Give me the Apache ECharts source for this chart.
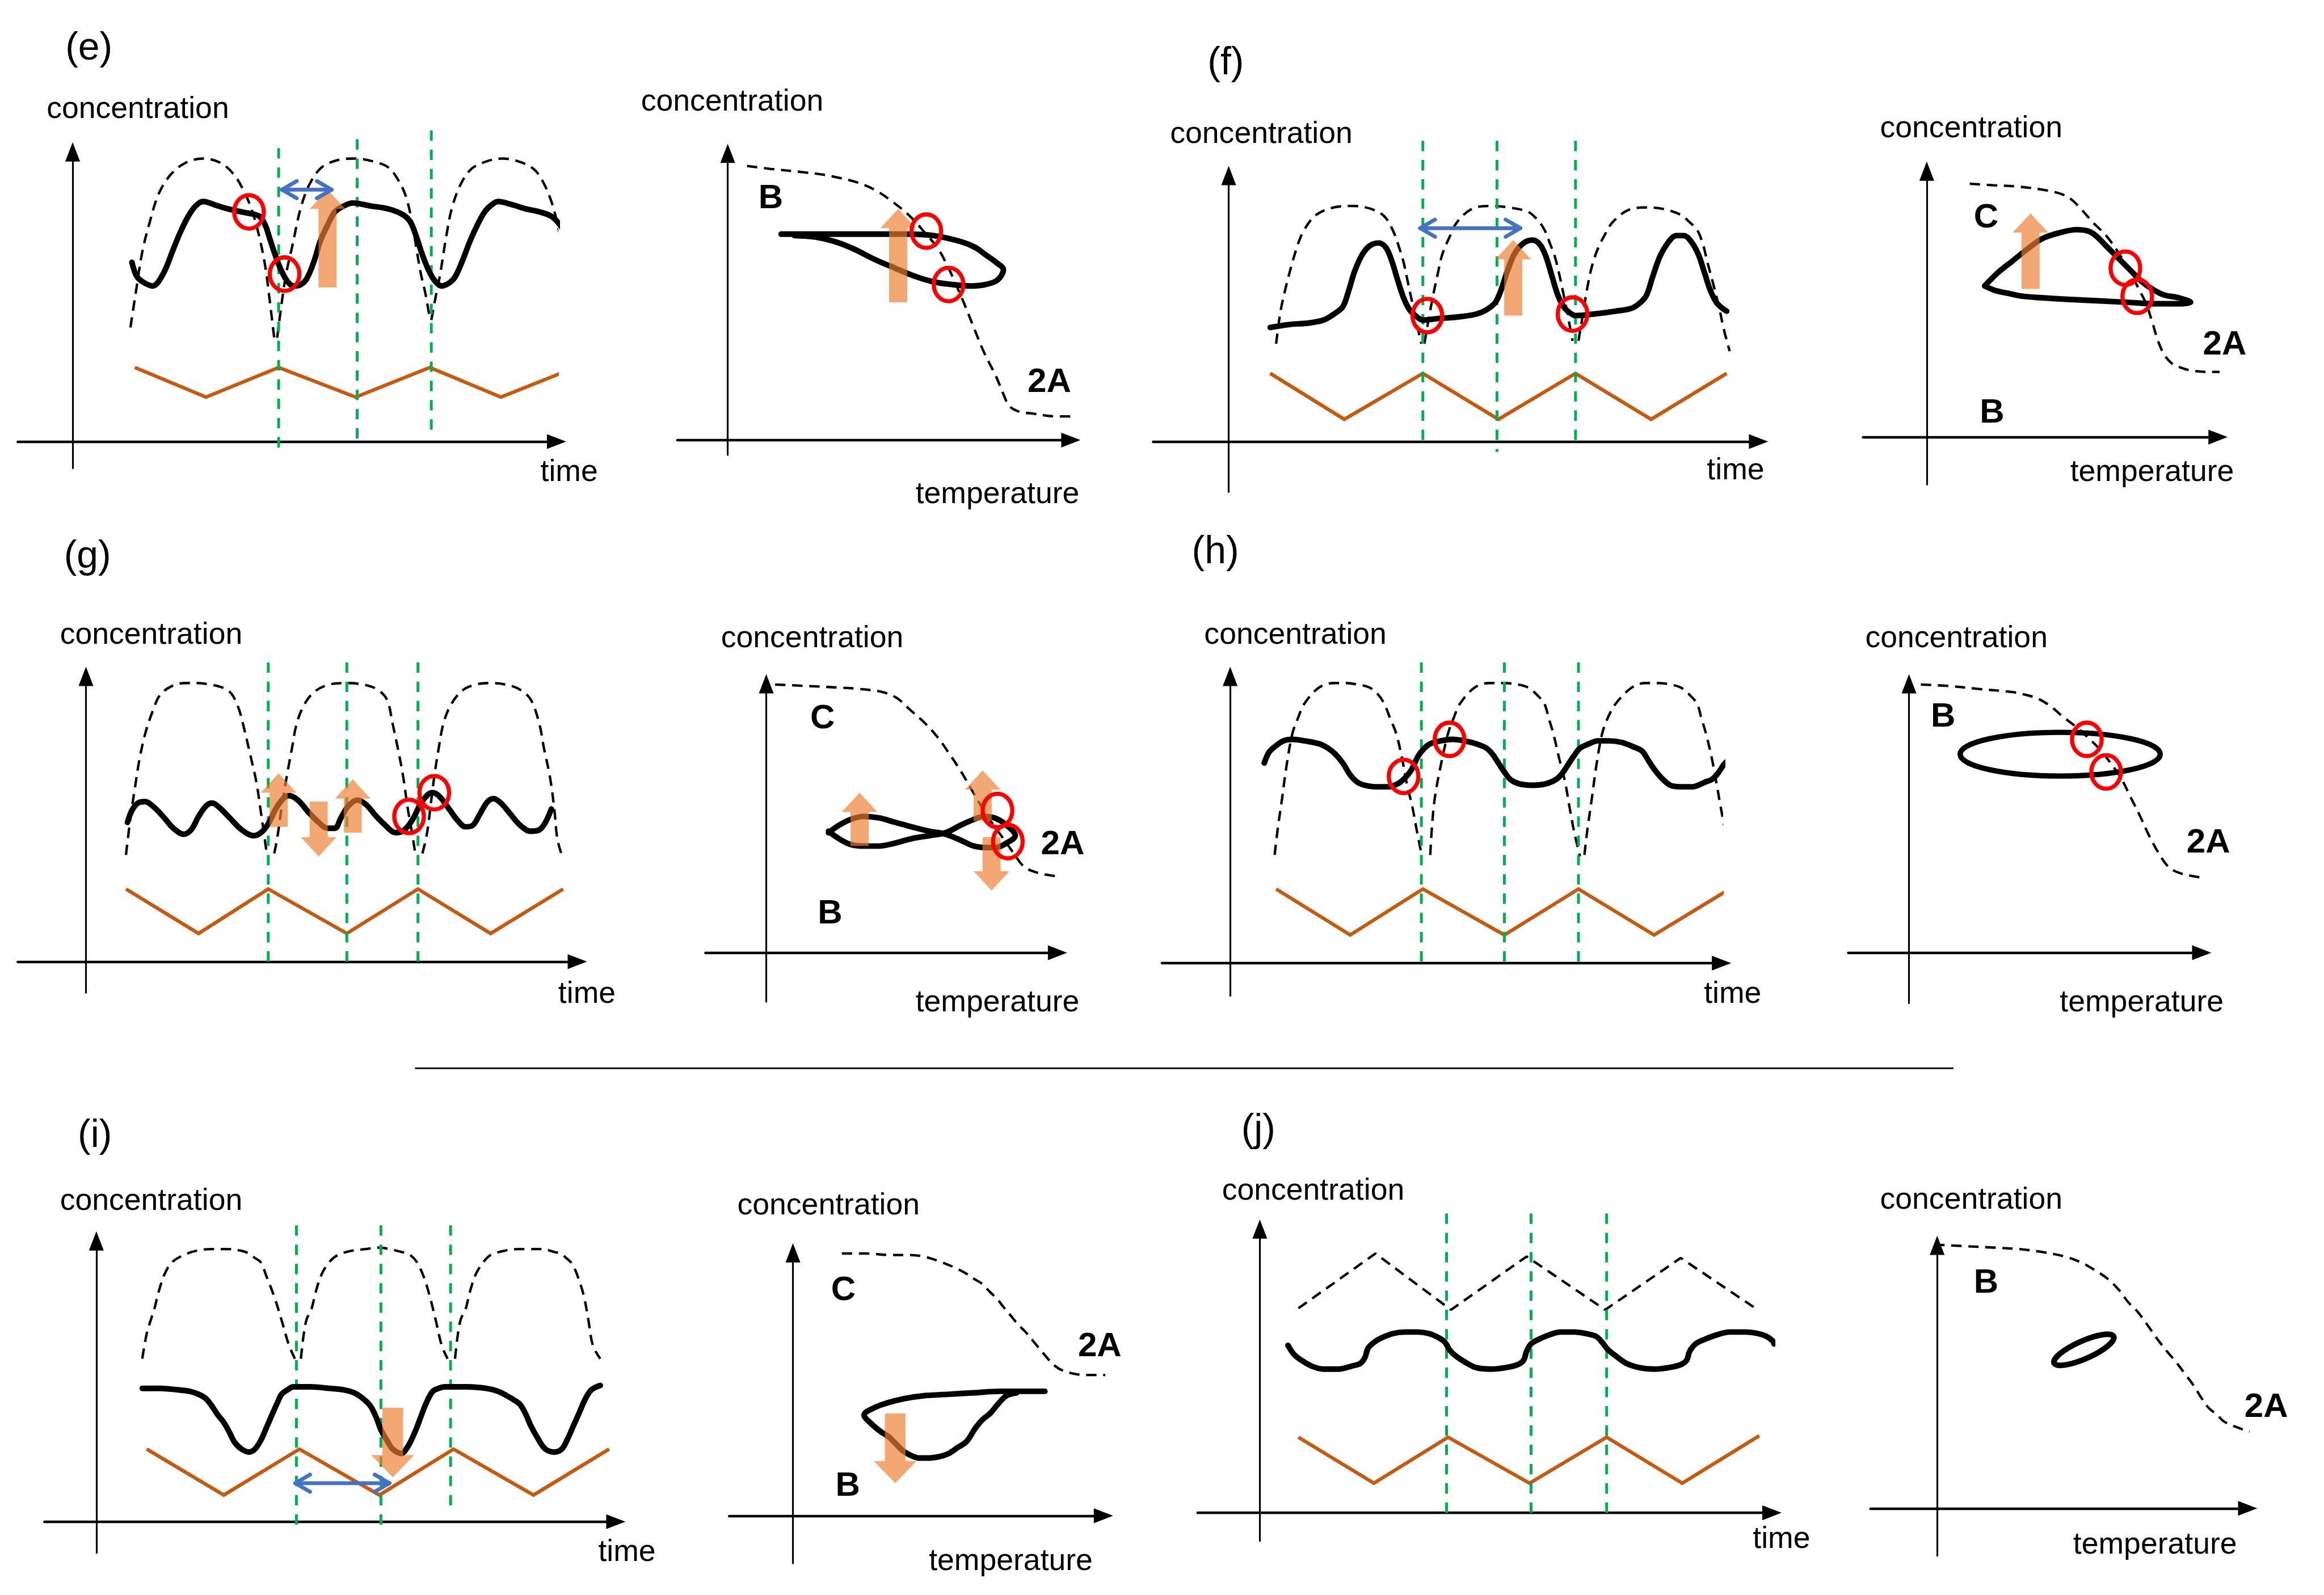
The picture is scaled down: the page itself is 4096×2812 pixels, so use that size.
<!DOCTYPE html>
<html><head><meta charset="utf-8">
<script src="https://cdn.jsdelivr.net/npm/echarts@6/dist/echarts.min.js"></script>
<style>html,body{margin:0;padding:0;background:#fff}#c{width:4096px;height:2812px}</style>
</head><body><div id="c"></div>
<script>
// ---------- text ----------
const panelTags = ['(e)', '(f)', '(g)', '(h)', '(i)', '(j)'];
const axisNames = { conc: 'concentration', time: 'time', temp: 'temperature' };
const species = { B: 'B', C: 'C', A2: '2A' };

// ---------- data (picture units) ----------
// (e)
const eTimeDash = [
  [[88,221],[92,195],[96,170],[101,150],[107,131],[115,118],[125,110],[137,107],[149,110],[158,118],[165,130],[170,142],[175,160],[179,180],[182,203],[185,228]],
  [[187,228],[190,205],[193,185],[197,167],[203,140],[209,124],[217,113],[228,108],[240,107],[252,109],[262,113],[269,122],[274,133],[278,150],[281,168],[284,185],[287,198],[290,215]],
  [[291,216],[294,200],[297,185],[301,160],[305,140],[311,124],[318,114],[328,109],[339,107],[350,109],[360,114],[366,122],[372,136],[377,155],[381,176],[384,196],[388,221]]
];
const eTimeCurve = [[89,177],[92,186],[96,190],[103,193],[110,185],[117,168],[122,156],[127,146],[132,139],[137,136],[147,139],[158,142],[168,144],[175,146],[179,152],[182,161],[186,173],[190,183],[194,190],[198,193],[203,192],[207,188],[212,176],[216,163],[221,152],[226,143],[232,139],[238,137],[250,139],[262,141],[272,145],[277,150],[281,160],[285,172],[289,182],[293,189],[298,193],[303,191],[307,187],[312,176],[317,163],[322,152],[327,143],[332,138],[336,136],[345,138],[355,141],[364,143],[372,146],[378,152],[383,160],[386,170],[389,180]];
const eTimeDrive = [[91,248],[139,268],[188,248],[240,268],[290,248],[338,268],[388,248]];
const eTimeGuides = [[188,100,308],[241,94,301],[291,88,296]];
const eTimeRings = [[168,143],[192,185]];
const eTimeArrows = [[221,194,128]];
const eTimeSpans = [[189,225,128]];
const eTempEquil = [[504,112],[520,114],[540,116],[556,118],[566,120],[578,123],[590,128],[602,136],[614,146],[624,157],[633,168],[640,181],[645,192],[651,206],[657,221],[664,238],[672,254],[677,266],[681,274],[688,278],[696,279],[712,281],[726,281]];
const eTempLoop = [[527,158],[545,158],[565,158],[590,158],[612,158],[630,159],[648,163],[658,167],[665,172],[672,177],[677,182],[673,189],[665,192],[655,193],[642,192],[629,190],[616,186],[604,181],[590,175],[576,168],[563,163],[550,160],[536,159]];
const eTempRings = [[625,156],[640,192]];
const eTempArrows = [[606,204,141]];

// (f)
const fTimeDash = [
  [[861,232],[864,210],[868,192],[872,177],[876,164],[880,155],[888,145],[900,140],[913,139],[925,141],[934,146],[940,156],[944,167],[947,177],[950,191],[953,205],[956,219],[959,232]],
  [[961,232],[964,215],[967,199],[970,185],[973,172],[978,160],[983,150],[993,141],[1005,139],[1018,140],[1031,143],[1037,148],[1042,155],[1046,165],[1049,173],[1052,185],[1055,199],[1058,214],[1061,230]],
  [[1065,230],[1068,212],[1071,194],[1074,180],[1078,168],[1083,158],[1088,150],[1098,142],[1110,140],[1122,141],[1134,145],[1140,150],[1145,155],[1149,165],[1152,177],[1156,192],[1160,208],[1163,222],[1167,237]]
];
const fTimeCurve = [[857,221],[870,219],[883,218],[893,216],[900,212],[906,207],[910,196],[914,183],[919,172],[924,166],[930,164],[935,167],[939,176],[943,189],[947,201],[951,209],[955,213],[960,216],[970,215],[983,214],[996,212],[1003,209],[1009,204],[1013,195],[1017,183],[1022,171],[1028,164],[1034,162],[1039,165],[1043,173],[1047,186],[1051,199],[1055,207],[1059,211],[1063,213],[1075,212],[1090,210],[1101,208],[1107,204],[1111,199],[1115,187],[1120,173],[1126,163],[1131,159],[1136,159],[1141,163],[1146,172],[1150,184],[1154,196],[1158,204],[1162,208],[1165,210]];
const fTimeDrive = [[857,252],[907,283],[960,252],[1011,283],[1063,252],[1114,283],[1165,252]];
const fTimeGuides = [[960,95,300],[1010,95,305],[1063,95,299]];
const fTimeRings = [[963,213],[1061,212]];
const fTimeArrows = [[1021,213,162]];
const fTimeSpans = [[957,1027,154]];
const fTempEquil = [[1329,124],[1345,125],[1362,126],[1378,128],[1391,131],[1398,135],[1404,141],[1412,150],[1421,159],[1429,170],[1437,183],[1443,195],[1448,205],[1452,217],[1456,230],[1460,239],[1465,245],[1471,248],[1478,250],[1490,251],[1502,251]];
const fTempLoop = [[1339,193],[1348,184],[1358,176],[1368,168],[1378,161],[1390,157],[1401,155],[1409,156],[1414,159],[1421,166],[1429,174],[1437,182],[1445,190],[1452,195],[1460,199],[1470,201],[1478,204],[1470,205],[1455,205],[1435,204],[1415,203],[1395,202],[1378,201],[1365,200],[1355,198],[1346,196],[1339,193]];
const fTempRings = [[1434,181],[1442,200]];
const fTempArrows = [[1370,195,144]];

// (g)
const gTimeDash = [
  [[85,577],[87,560],[89,545],[91,532],[94,513],[98,495],[103,480],[108,469],[116,463],[125,461],[133,461],[142,462],[150,464],[156,468],[161,478],[165,493],[169,510],[173,528],[176,548],[178,562],[180,576]],
  [[185,576],[187,566],[190,545],[194,521],[197,505],[200,489],[205,476],[212,467],[222,462],[234,461],[245,462],[254,465],[261,472],[265,489],[268,503],[272,524],[275,545],[278,562],[280,575]],
  [[285,576],[288,563],[291,540],[293,524],[296,505],[299,489],[304,476],[312,466],[321,462],[331,461],[341,462],[350,465],[358,472],[364,489],[367,505],[371,524],[374,546],[376,566],[379,577]]
];
const gTimeCurve = [[86,555],[89,547],[93,542],[98,541],[103,544],[110,551],[117,559],[124,563],[129,560],[134,551],[139,544],[143,542],[148,545],[155,552],[163,560],[171,564],[176,562],[181,556],[186,546],[191,539],[195,537],[201,540],[208,548],[215,555],[221,559],[226,559],[230,552],[235,544],[241,540],[247,543],[253,550],[260,557],[267,562],[273,560],[279,552],[284,542],[289,536],[292,535],[297,538],[303,546],[309,554],[314,558],[319,557],[324,549],[329,541],[333,539],[338,542],[344,549],[351,557],[358,561],[364,560],[368,555],[372,546]];
const gTimeDrive = [[85,600],[134,630],[181,600],[234,630],[282,600],[331,630],[380,600]];
const gTimeGuides = [[181,447,652],[234,447,652],[282,447,652]];
const gTimeRings = [[276,551],[293,535]];
const gTimeArrows = [[188,558,522],[215,541,578],[238,562,526]];
const gTempEquil = [[523,462],[545,463],[565,464],[580,465],[595,467],[605,471],[614,479],[624,488],[633,498],[640,508],[648,520],[655,532],[662,544],[669,555],[677,566],[684,576],[691,585],[700,589],[710,591],[724,593],[739,594]];
const gTempLoop = [[559,562],[566,557],[574,553],[583,551],[593,552],[604,555],[615,558],[627,561],[638,563],[648,567],[657,571],[665,572],[672,572],[679,569],[685,564],[678,556],[671,552],[664,551],[657,553],[648,557],[638,562],[627,564],[615,566],[604,569],[593,571],[583,571],[574,570],[566,566],[559,561]];
const gTempRings = [[673,547],[680,568]];
const gTempArrows = [[580,571,535],[663,554,520],[669,565,601]];

// (h)
const hTimeDash = [
  [[860,577],[862,560],[865,539],[868,517],[872,495],[876,484],[880,475],[890,464],[900,461],[908,461],[916,462],[924,464],[930,469],[934,475],[938,485],[942,495],[946,512],[949,528],[953,545],[956,561],[959,576]],
  [[965,577],[966,560],[968,539],[972,517],[977,495],[981,484],[985,475],[995,464],[1005,461],[1015,461],[1024,462],[1031,464],[1037,469],[1042,475],[1045,485],[1048,495],[1052,512],[1056,528],[1059,545],[1062,561],[1066,578]],
  [[1069,577],[1071,560],[1074,539],[1077,517],[1081,495],[1085,484],[1090,475],[1101,464],[1110,461],[1119,461],[1127,462],[1134,464],[1140,469],[1145,475],[1148,485],[1151,495],[1155,512],[1158,528],[1161,545],[1164,561],[1167,578]]
];
const hTimeCurve = [[853,515],[856,508],[860,504],[866,500],[872,499],[880,500],[890,502],[896,505],[901,509],[906,515],[911,523],[916,528],[921,530],[928,531],[937,531],[943,529],[947,526],[952,520],[957,510],[961,505],[965,502],[972,500],[980,499],[988,500],[996,502],[1003,505],[1007,509],[1011,515],[1015,521],[1019,526],[1025,529],[1034,530],[1043,529],[1050,526],[1054,522],[1058,516],[1062,510],[1066,505],[1072,502],[1078,500],[1085,500],[1094,501],[1102,504],[1108,507],[1112,513],[1116,519],[1121,525],[1127,530],[1134,531],[1142,531],[1150,528],[1155,526],[1159,522],[1163,516],[1165,514]];
const hTimeDrive = [[861,600],[911,631],[960,600],[1015,631],[1065,600],[1116,631],[1167,600]];
const hTimeGuides = [[959,447,653],[1015,447,653],[1065,447,653]];
const hTimeRings = [[947,524],[978,499]];
const hTempEquil = [[1296,462],[1315,463],[1335,465],[1357,467],[1367,469],[1376,472],[1384,477],[1391,483],[1400,490],[1409,498],[1417,506],[1424,515],[1431,525],[1437,537],[1444,551],[1450,564],[1456,575],[1463,585],[1470,589],[1478,591],[1490,593],[1507,595]];
const hTempOrbit = [[1390,509]];
const hTempRings = [[1408,499],[1421,521]];

// (i)
const iTimeDash = [
  [[96,917],[99,900],[102,890],[104,884],[107,872],[111,860],[116,852],[124,847],[133,844],[143,843],[153,843],[162,844],[168,846],[172,849],[176,852],[180,862],[185,875],[190,891],[195,908],[199,917]],
  [[203,917],[205,900],[207,890],[210,884],[213,872],[217,860],[222,852],[228,847],[238,844],[247,843],[255,842],[263,843],[271,845],[275,846],[279,849],[282,853],[286,862],[290,875],[294,891],[298,908],[302,917]],
  [[307,917],[309,900],[311,890],[314,884],[317,872],[321,860],[326,852],[331,847],[341,844],[350,843],[356,843],[366,843],[374,845],[378,846],[382,849],[386,853],[390,862],[394,875],[397,891],[400,908],[405,917]]
];
const iTimeCurve = [[96,937],[108,937],[120,938],[128,939],[134,941],[139,944],[143,949],[147,955],[151,960],[155,967],[158,973],[163,978],[168,980],[172,978],[176,972],[180,963],[183,956],[187,947],[190,941],[194,938],[198,936],[210,936],[222,937],[232,938],[239,940],[245,944],[250,949],[254,957],[257,965],[261,972],[265,978],[271,981],[274,978],[277,973],[281,964],[284,956],[288,946],[292,939],[296,937],[300,936],[315,936],[328,937],[336,939],[342,942],[347,945],[351,948],[355,955],[358,962],[363,971],[368,978],[374,980],[379,978],[383,971],[387,962],[391,953],[395,944],[399,938],[405,935]];
const iTimeDrive = [[99,978],[151,1009],[202,978],[256,1009],[306,978],[360,1009],[411,978]];
const iTimeGuides = [[200,827,1030],[257,827,1030],[304,827,1021]];
const iTimeArrows = [[265,950,997]];
const iTimeSpans = [[198,264,1001]];
const iTempEquil = [[568,846],[585,846],[600,847],[612,847],[623,848],[633,851],[643,855],[651,859],[657,863],[662,866],[668,872],[673,877],[677,882],[682,888],[687,894],[692,899],[697,905],[702,911],[707,917],[712,922],[717,925],[724,927],[732,928],[742,928],[751,928]];
const iTempLoop = [[705,939],[690,939],[675,939],[657,940],[640,941],[623,942],[610,944],[598,947],[590,950],[583,955],[588,961],[594,966],[600,970],[604,974],[609,979],[614,982],[620,984],[627,984],[634,983],[640,981],[646,977],[652,973],[658,964],[663,958],[668,954],[673,948],[679,942],[686,940]];
const iTempArrows = [[604,954,1001]];

// (j)
const jTimeDash = [[[876,883],[928,846],[979,884],[1030,848],[1083,884],[1134,849],[1186,884]]];
const jTimeCurve = [[869,908],[873,914],[878,918],[885,922],[893,924],[903,924],[912,922],[918,920],[921,916],[923,910],[927,906],[932,903],[940,900],[948,899],[956,899],[964,900],[971,903],[975,906],[978,911],[982,915],[988,919],[996,923],[1006,924],[1016,923],[1024,921],[1028,918],[1030,912],[1033,907],[1038,904],[1045,901],[1053,899],[1062,899],[1070,900],[1077,902],[1081,906],[1085,911],[1090,915],[1097,920],[1106,923],[1116,924],[1126,923],[1134,921],[1138,918],[1140,912],[1144,907],[1150,904],[1158,901],[1167,899],[1178,899],[1186,900],[1192,902],[1196,905],[1197,907]];
const jTimeDrive = [[876,970],[927,1001],[977,970],[1032,1001],[1084,970],[1135,1001],[1187,969]];
const jTimeGuides = [[976,819,1021],[1033,819,1021],[1084,819,1021]];
const jTempEquil = [[1305,840],[1325,841],[1345,842],[1362,843],[1378,845],[1393,848],[1404,852],[1413,857],[1422,863],[1430,871],[1436,879],[1442,885],[1448,893],[1455,903],[1462,912],[1468,919],[1474,927],[1480,935],[1485,943],[1490,950],[1496,955],[1500,959],[1506,962],[1518,966],[1535,967],[1555,969]];
const jTempOrbit = [[1406,911]];

// ---------- layout (reference-preview units -> window px) ----------
const K = 4096 / 1568;
const S = v => v * K;
const FONT = '"Liberation Sans", Arial, sans-serif';
const AH = 13; // axis arrow head length

const PANELS = [
  {ox:49, oy:298, xl:12, xr:382, yt:96, yb:316, dash:eTimeDash, curve:eTimeCurve, drive:eTimeDrive, guides:eTimeGuides, rings:eTimeRings, arrows:eTimeArrows, spans:eTimeSpans},
  {ox:491, oy:297, xl:457, xr:729, yt:97, yb:307, dash:[eTempEquil], curve:eTempLoop, rings:eTempRings, arrows:eTempArrows},
  {ox:829, oy:298, xl:778, xr:1193, yt:112, yb:332, dash:fTimeDash, curve:fTimeCurve, drive:fTimeDrive, guides:fTimeGuides, rings:fTimeRings, arrows:fTimeArrows, spans:fTimeSpans},
  {ox:1300, oy:295, xl:1257, xr:1503, yt:109, yb:327, dash:[fTempEquil], curve:fTempLoop, rings:fTempRings, arrows:fTempArrows},
  {ox:58, oy:649, xl:12, xr:396, yt:450, yb:670, dash:gTimeDash, curve:gTimeCurve, drive:gTimeDrive, guides:gTimeGuides, rings:gTimeRings, arrows:gTimeArrows},
  {ox:517, oy:643, xl:476, xr:720, yt:455, yb:676, dash:[gTempEquil], curve:gTempLoop, rings:gTempRings, arrows:gTempArrows},
  {ox:830, oy:650, xl:784, xr:1168, yt:450, yb:672, dash:hTimeDash, curve:hTimeCurve, drive:hTimeDrive, guides:hTimeGuides, rings:hTimeRings},
  {ox:1288, oy:643, xl:1247, xr:1492, yt:455, yb:677, dash:[hTempEquil], orbit:hTempOrbit, orbitSize:[135,29.5], orbitRot:0, orbitW:3.6, rings:hTempRings},
  {ox:65, oy:1027, xl:30, xr:422, yt:831, yb:1048, dash:iTimeDash, curve:iTimeCurve, drive:iTimeDrive, guides:iTimeGuides, arrows:iTimeArrows, spans:iTimeSpans, big:true},
  {ox:535, oy:1023, xl:492, xr:751, yt:839, yb:1055, dash:[iTempEquil], curve:iTempLoop, arrows:iTempArrows, big:true},
  {ox:850, oy:1021, xl:808, xr:1202, yt:823, yb:1040, dash:jTimeDash, straightDash:true, curve:jTimeCurve, drive:jTimeDrive, guides:jTimeGuides},
  {ox:1307, oy:1018, xl:1262, xr:1523, yt:834, yb:1050, dash:[jTempEquil], orbit:jTempOrbit, orbitSize:[44,12], orbitRot:24, orbitW:3.8}
];

const TEXTS = [
  [panelTags[0],60,33,'tag'],[axisNames.conc,93,74,'ax'],[axisNames.time,384,319,'ax'],[axisNames.conc,494,69,'ax'],[axisNames.temp,673,334,'ax'],[species.B,520,134,'sp'],[species.A2,708,258,'sp'],
  [panelTags[1],827,43,'tag'],[axisNames.conc,851,91,'ax'],[axisNames.time,1171,318,'ax'],[axisNames.conc,1330,87,'ax'],[axisNames.temp,1452,319,'ax'],[species.C,1340,147,'sp'],[species.B,1344,279,'sp'],[species.A2,1501,233,'sp'],
  [panelTags[2],59,376,'tag'],[axisNames.conc,102,429,'ax'],[axisNames.time,396,671,'ax'],[axisNames.conc,548,431,'ax'],[axisNames.temp,673,677,'ax'],[species.C,555,485,'sp'],[species.B,560,617,'sp'],[species.A2,717,570,'sp'],
  [panelTags[3],820,373,'tag'],[axisNames.conc,874,429,'ax'],[axisNames.time,1169,671,'ax'],[axisNames.conc,1320,431,'ax'],[axisNames.temp,1445,677,'ax'],[species.B,1311,484,'sp'],[species.A2,1490,569,'sp'],
  [panelTags[4],64,767,'tag'],[axisNames.conc,102,811,'ax'],[axisNames.time,423,1048,'ax'],[axisNames.conc,559,814,'ax'],[axisNames.temp,682,1054,'ax'],[species.C,569,871,'sp'],[species.B,572,1003,'sp'],[species.A2,742,909,'sp'],
  [panelTags[5],849,763,'tag'],[axisNames.conc,886,804,'ax'],[axisNames.time,1202,1039,'ax'],[axisNames.conc,1330,810,'ax'],[axisNames.temp,1454,1043,'ax'],[species.B,1340,866,'sp'],[species.A2,1529,950,'sp']
];

// ---------- build option ----------
const grids = [], xAxes = [], yAxes = [], series = [];
const hidden = { axisTick:{show:false}, axisLabel:{show:false}, splitLine:{show:false} };

// hollow ellipse drawn at a data point (size/stroke are styling)
function ellipseSeries(i, pts, rx, ry, rotDeg, color, lw, z) {
  return { type:'custom', coordinateSystem:'cartesian2d', xAxisIndex:i, yAxisIndex:i, z:z, silent:true,
    encode:{ x:0, y:1 }, data:pts,
    renderItem:(params, api) => {
      const c = api.coord([api.value(0), api.value(1)]);
      return { type:'ellipse', x:c[0], y:c[1], rotation:rotDeg * Math.PI / 180,
        shape:{ cx:0, cy:0, rx:rx, ry:ry }, style:{ fill:'none', stroke:color, lineWidth:lw } };
    } };
}

PANELS.forEach((P, i) => {
  const tipX = P.xr - AH / 2, tipY = P.yt + AH / 2;
  grids.push({ left:S(P.xl), top:S(tipY), width:S(tipX - P.xl), height:S(P.yb - tipY), containLabel:false });
  xAxes.push(Object.assign({ gridIndex:i, type:'value', min:P.xl - P.ox, max:tipX - P.ox,
    axisLine:{ show:true, onZero:true, symbol:['none','triangle'], symbolSize:[S(10), S(AH)], lineStyle:{ color:'#000', width:S(1.7) } } }, hidden));
  yAxes.push(Object.assign({ gridIndex:i, type:'value', min:P.oy - P.yb, max:P.oy - tipY,
    axisLine:{ show:true, onZero:true, symbol:['none','triangle'], symbolSize:[S(10), S(AH)], lineStyle:{ color:'#000', width:S(1.2) } } }, hidden));
  const R = p => [p[0] - P.ox, P.oy - p[1]];
  const line = (pts, style, smooth, z) => ({ type:'line', xAxisIndex:i, yAxisIndex:i, data:pts.map(R), smooth:smooth,
    showSymbol:false, symbol:'none', clip:false, silent:true, animation:false, z:z, lineStyle:style });

  (P.dash || []).forEach(seg => series.push(line(seg, { color:'#000', width:S(1.65), type:[S(7), S(4.5)] }, P.straightDash ? false : 0.35, 2)));
  if (P.drive) series.push(line(P.drive, { color:'#C55A11', width:S(2.4), join:'miter' }, false, 2));
  (P.guides || []).forEach(g => series.push(line([[g[0], g[1]], [g[0], g[2]]], { color:'#00B050', width:S(1.9), type:[S(7), S(6)] }, false, 3)));
  if (P.curve) series.push(line(P.curve, { color:'#000', width:S(3.8), cap:'round', join:'round' }, 0.35, 4));
  if (P.orbit) series.push(ellipseSeries(i, P.orbit.map(R), S(P.orbitSize[0] / 2), S(P.orbitSize[1] / 2), P.orbitRot, '#000', S(P.orbitW), 4));
  if (P.arrows) {
    const d = P.big ? { shaft:7, wing:14.5, head:15 } : { shaft:6.1, wing:12, head:13 };
    series.push({ type:'custom', coordinateSystem:'cartesian2d', xAxisIndex:i, yAxisIndex:i, z:5, silent:true,
      encode:{ x:0, y:[1,2] }, data:P.arrows.map(a => [a[0] - P.ox, P.oy - a[1], P.oy - a[2]]),
      renderItem:(params, api) => {
        const s = api.coord([api.value(0), api.value(1)]);
        const e = api.coord([api.value(0), api.value(2)]);
        const dir = e[1] < s[1] ? -1 : 1;
        const x = s[0], hb = e[1] - dir * S(d.head);
        const sw = S(d.shaft), ww = S(d.wing);
        return { type:'polygon', shape:{ points:[[x - sw, s[1]], [x - sw, hb], [x - ww, hb], [x, e[1]], [x + ww, hb], [x + sw, hb], [x + sw, s[1]]] },
          style:{ fill:'rgba(237,125,49,0.68)' } };
      } });
  }
  if (P.rings) series.push(ellipseSeries(i, P.rings.map(R), S(10), S(11.3), 0, '#FF0000', S(2.8), 6));
  if (P.spans) series.push({ type:'custom', coordinateSystem:'cartesian2d', xAxisIndex:i, yAxisIndex:i, z:7, silent:true,
    encode:{ x:[0,1], y:2 }, data:P.spans.map(b => [b[0] - P.ox, b[1] - P.ox, P.oy - b[2]]),
    renderItem:(params, api) => {
      const a = api.coord([api.value(0), api.value(2)]);
      const b = api.coord([api.value(1), api.value(2)]);
      const hl = S(10), hw = S(5.8), inset = S(1.2);
      const st = { stroke:'#4472C4', lineWidth:S(2.6), fill:'none', lineJoin:'round', lineCap:'round' };
      return { type:'group', children:[
        { type:'line', shape:{ x1:a[0] + inset, y1:a[1], x2:b[0] - inset, y2:b[1] }, style:st },
        { type:'polyline', shape:{ points:[[a[0] + inset + hl, a[1] - hw], [a[0] + inset, a[1]], [a[0] + inset + hl, a[1] + hw]] }, style:st },
        { type:'polyline', shape:{ points:[[b[0] - inset - hl, b[1] - hw], [b[0] - inset, b[1]], [b[0] - inset - hl, b[1] + hw]] }, style:st }
      ] };
    } });
});

const fontOf = kind => kind === 'tag' ? `${S(26)}px ${FONT}` : kind === 'sp' ? `bold ${S(23)}px ${FONT}` : `${S(20.5)}px ${FONT}`;
const graphics = TEXTS.map(t => ({ type:'text', x:S(t[1]), y:S(t[2]), silent:true, z:10,
  style:{ text:t[0], font:fontOf(t[3]), fill:'#000', textAlign:'center', textVerticalAlign:'middle', align:'center', verticalAlign:'middle' } }));
graphics.push({ type:'line', silent:true, shape:{ x1:S(280), y1:S(721), x2:S(1318), y2:S(721) }, style:{ stroke:'#000', lineWidth:S(1.1) } });

const chart = echarts.init(document.getElementById('c'), null, { renderer:'canvas', width:4096, height:2812 });
chart.setOption({ animation:false, backgroundColor:'#fff', grid:grids, xAxis:xAxes, yAxis:yAxes, series:series, graphic:{ elements:graphics } });
</script></body></html>
